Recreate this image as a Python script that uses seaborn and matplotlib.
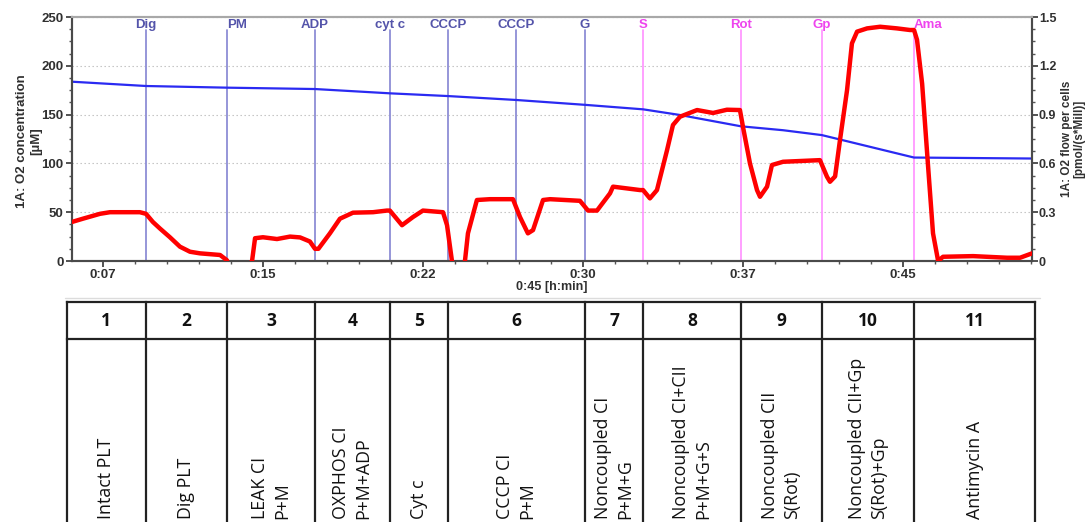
import numpy as np
import pandas as pd
import matplotlib
matplotlib.use("Agg")
import matplotlib.pyplot as plt
from matplotlib.lines import Line2D
from matplotlib.ticker import MultipleLocator, FixedLocator, FixedFormatter, FuncFormatter
import seaborn as sns

# ---------------- data ----------------
event_names = ["Dig", "PM", "ADP", "cyt c", "CCCP", "CCCP", "G", "S", "Rot", "Gp", "Ama"]
event_times = [9.52, 13.31, 17.44, 20.95, 23.67, 26.86, 30.10, 32.82, 37.41, 41.20, 45.52]
event_kind = ["a", "a", "a", "a", "a", "a", "a", "b", "b", "b", "b"]

# O2 concentration [µM] (left axis)
conc_t = [6.05, 9.52, 13.31, 17.44, 20.95, 23.67, 26.86, 30.10, 32.82, 34.55,
          37.41, 39.38, 41.20, 45.52, 51.05]
conc_v = [183.7, 179.3, 177.6, 176.2, 171.8, 169.0, 165.0, 160.0, 155.4, 149.6,
          138.0, 134.0, 129.0, 106.0, 105.0]

# O2 flow per cells [pmol/(s*Mill)] (right axis)
flow_t = [6.05, 6.56, 7.36, 7.83, 9.23, 9.52, 9.84, 10.17, 10.64, 11.11, 11.58,
          12.05, 12.99, 13.31, 13.45, 14.20, 14.49, 14.63, 15.00, 15.66, 16.27,
          16.74, 17.20, 17.44, 17.60, 18.14, 18.61, 19.22, 20.16, 20.81, 20.95,
          21.52, 22.03, 22.50, 23.44, 23.63, 23.86, 24.00, 24.40, 24.47, 24.61,
          25.03, 25.64, 26.72, 27.05, 27.42, 27.66, 28.13, 28.46, 29.86, 30.24,
          30.66, 31.27, 31.41, 32.68, 32.82, 33.14, 33.47, 33.94, 34.22, 34.55,
          35.35, 36.10, 36.75, 37.36, 37.50, 37.83, 38.16, 38.30, 38.63, 38.86,
          39.38, 41.11, 41.44, 41.58, 41.82, 42.05, 42.38, 42.61, 42.85, 43.32,
          43.93, 44.72, 45.33, 45.52, 45.66, 45.90, 46.18, 46.41, 46.65, 46.88,
          48.29, 49.88, 50.49, 51.05]
flow_v = [0.24, 0.26, 0.29, 0.30, 0.30, 0.29, 0.24, 0.20, 0.146, 0.088, 0.057,
          0.047, 0.037, 0.005, -0.05, -0.05, 0.0, 0.14, 0.146, 0.135, 0.15,
          0.145, 0.12, 0.075, 0.075, 0.17, 0.26, 0.297, 0.30, 0.31, 0.31,
          0.22, 0.27, 0.31, 0.30, 0.22, 0.0, -0.05, -0.05, 0.0, 0.17,
          0.375, 0.38, 0.38, 0.27, 0.17, 0.19, 0.375, 0.38, 0.37, 0.31,
          0.31, 0.416, 0.457, 0.436, 0.436, 0.385, 0.436, 0.68, 0.836, 0.887,
          0.928, 0.91, 0.93, 0.928, 0.826, 0.60, 0.436, 0.395, 0.457, 0.59,
          0.61, 0.62, 0.518, 0.487, 0.52, 0.744, 1.05, 1.338, 1.41, 1.43,
          1.44, 1.43, 1.42, 1.42, 1.36, 1.09, 0.58, 0.17, 0.0, 0.026,
          0.03, 0.02, 0.02, 0.047]

xtick_pos = [7.5, 15, 22.5, 30, 37.5, 45]
xtick_labels = ["0:07", "0:15", "0:22", "0:30", "0:37", "0:45"]

table_numbers = ["1", "2", "3", "4", "5", "6", "7", "8", "9", "10", "11"]
table_labels = ["Intact PLT", "Dig PLT", "LEAK CI\nP+M", "OXPHOS CI\nP+M+ADP", "Cyt c",
                "CCCP CI\nP+M", "Noncoupled CI\nP+M+G", "Noncoupled CI+CII\nP+M+G+S",
                "Noncoupled CII\nS(Rot)", "Noncoupled CII+Gp\nS(Rot)+Gp", "Antimycin A"]
table_bounds = [5.80, 9.52, 13.31, 17.44, 20.95, 23.67, 30.10, 32.82, 37.41, 41.20, 45.52, 51.19]

# ---------------- style ----------------
sns.set_style("white")
plt.rcParams["font.family"] = ["Liberation Sans", "DejaVu Sans"]

W, H = 1088, 522
fig = plt.figure(figsize=(W / 100, H / 100), dpi=100)
ax = fig.add_axes([72 / W, 1 - 261 / H, 960 / W, 244 / H])
ax2 = ax.twinx()

XMIN, XMAX = 6.05, 51.05
ax.set_xlim(XMIN, XMAX)
ax.set_ylim(0, 250)
ax2.set_ylim(0, 1.5)

# event markers
col_line = {"a": "#8e8ed6", "b": "#ff99ff"}
col_text = {"a": "#5454aa", "b": "#ee44ee"}
ha_map = {1: "left", 10: "left"}
for i, (name, t, k) in enumerate(zip(event_names, event_times, event_kind)):
    ax.axvline(t, ymin=0, ymax=0.945, color=col_line[k], lw=1.3, zorder=1)
    ha = ha_map.get(i, "center")
    ax.text(t, 0.968, name, transform=ax.get_xaxis_transform(), ha=ha, va="center",
            fontsize=9.5, color=col_text[k], fontweight="bold", zorder=3)

df_c = pd.DataFrame({"t": conc_t, "v": conc_v})
df_f = pd.DataFrame({"t": flow_t, "v": flow_v})
sns.lineplot(data=df_c, x="t", y="v", ax=ax, color="#2a2af2", lw=1.6, sort=False,
             estimator=None, zorder=2)
sns.lineplot(data=df_f, x="t", y="v", ax=ax2, color="#ff0000", lw=3.2, sort=False,
             estimator=None, zorder=4, solid_joinstyle="round", solid_capstyle="round")

# grid
ax.yaxis.grid(True, linestyle=(0, (1.2, 2.4)), color="#bcbcbc", lw=0.8)
ax.set_axisbelow(True)

# ticks
ax.xaxis.set_major_locator(FixedLocator(xtick_pos))
ax.xaxis.set_major_formatter(FixedFormatter(xtick_labels))
ax.xaxis.set_minor_locator(MultipleLocator(1.5))
ax.yaxis.set_major_locator(MultipleLocator(50))
ax.yaxis.set_minor_locator(MultipleLocator(12.5))
ax2.yaxis.set_major_locator(MultipleLocator(0.3))
ax2.yaxis.set_minor_locator(MultipleLocator(0.075))
ax2.yaxis.set_major_formatter(FuncFormatter(lambda v, p: "0" if abs(v) < 1e-9 else f"{v:.1f}"))

for a in (ax, ax2):
    a.tick_params(which="major", direction="out", length=4, width=1.3, colors="#444444",
                  labelsize=9.5, labelcolor="#303030", pad=2)
    a.tick_params(which="minor", direction="out", length=2.5, width=1.0, colors="#555555")
ax2.tick_params(axis="y", labelsize=9, pad=1)
ax.tick_params(axis="x", which="both", bottom=True, top=False)
ax.tick_params(axis="y", which="both", left=True, right=False)
ax2.tick_params(axis="y", which="both", right=True, left=False)
for lab in ax.get_xticklabels() + ax.get_yticklabels() + ax2.get_yticklabels():
    lab.set_fontweight("bold")

for a in (ax, ax2):
    for s in ("left", "bottom", "right"):
        a.spines[s].set_color("#4a4a4a")
        a.spines[s].set_linewidth(1.5)
    a.spines["top"].set_color("#a8a8a8")
    a.spines["top"].set_linewidth(1.5)

ax.set_xlabel("0:45 [h:min]", fontsize=9, fontweight="bold", color="#303030")
ax.xaxis.set_label_coords(0.5, -0.083)
ax.set_ylabel("1A: O2 concentration\n[µM]", fontsize=9.5, fontweight="bold", color="#303030",
              linespacing=1.25)
ax.yaxis.set_label_coords(-0.031, 0.49)
ax2.set_ylabel("1A: O2 flow per cells\n[pmol/(s*Mill)]", fontsize=8.5, fontweight="bold",
               color="#303030", linespacing=1.1)
ax2.yaxis.set_label_coords(1.03, 0.5)

# separator line
fig.add_artist(Line2D([65 / W, 1040 / W], [1 - 298 / H] * 2, color="#dcdcdc", lw=1.0))

# ---------------- table ----------------
tab = fig.add_axes([72 / W, 0, 960 / W, 300 / H])
tab.set_xlim(XMIN, XMAX)
tab.set_ylim(522, 222)
tab.axis("off")

y_top, y_head = 302, 339
for b in table_bounds:
    tab.plot([b, b], [y_top, 540], color="#222222", lw=1.6, clip_on=False,
             solid_capstyle="projecting")
for yy in (y_top, y_head):
    tab.plot([table_bounds[0], table_bounds[-1]], [yy, yy], color="#222222", lw=1.6,
             clip_on=False, solid_capstyle="projecting")

for i, (num, lab) in enumerate(zip(table_numbers, table_labels)):
    xc = 0.5 * (table_bounds[i] + table_bounds[i + 1])
    tab.text(xc, 321, num, ha="center", va="center", fontsize=12.5, fontweight="bold",
             family=["Open Sans", "DejaVu Sans"], color="#111111")
    tab.text(xc, 519, lab, ha="center", va="bottom", rotation=90, multialignment="left",
             fontsize=12.8, family=["Open Sans", "DejaVu Sans"], color="#111111",
             linespacing=1.3)

fig.savefig("out.png", dpi=100)
